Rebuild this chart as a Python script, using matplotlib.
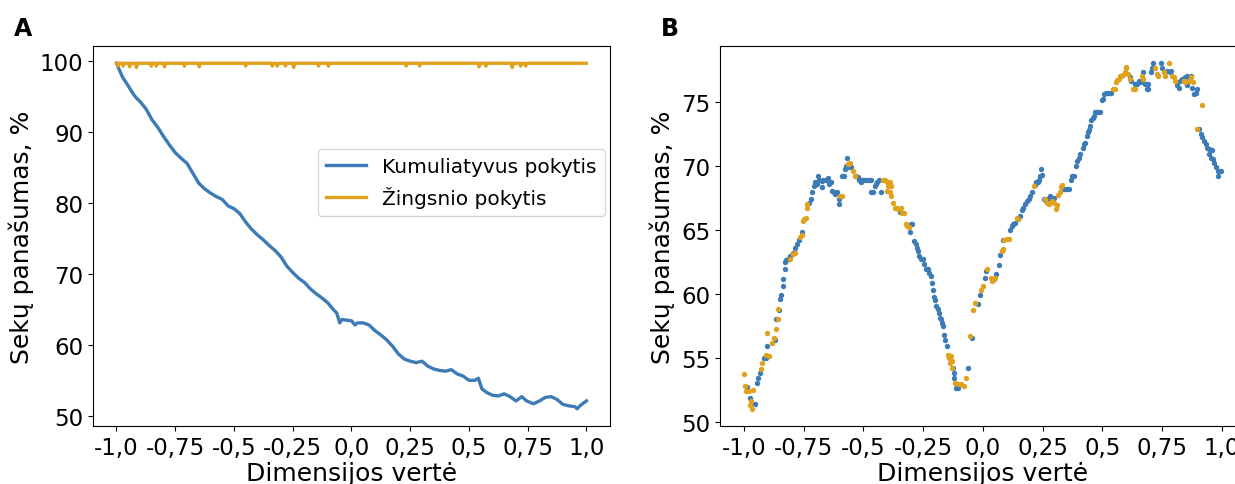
import matplotlib.pyplot as plt
import numpy as np

plt.rcParams['font.family'] = ['DejaVu Sans']

blue = '#3d7bb6'
gold = '#e0a11c'

# A: kumuliatyvus pokytis
cum_x = [-1.0, -0.975, -0.95, -0.925, -0.915, -0.9, -0.875, -0.85, -0.825, -0.8, -0.775,
         -0.75, -0.725, -0.7, -0.675, -0.65, -0.625, -0.6, -0.575, -0.55, -0.525, -0.5,
         -0.475, -0.45, -0.425, -0.4, -0.375, -0.35, -0.325, -0.3, -0.275, -0.25, -0.225,
         -0.2, -0.175, -0.15, -0.125, -0.1, -0.075, -0.063, -0.05, -0.04, -0.025, 0.0,
         0.015, 0.025, 0.05, 0.075, 0.1, 0.125, 0.15, 0.175, 0.2, 0.225, 0.25, 0.275, 0.3,
         0.325, 0.35, 0.375, 0.4, 0.425, 0.45, 0.475, 0.5, 0.525, 0.54, 0.555, 0.575, 0.6,
         0.625, 0.65, 0.675, 0.7, 0.725, 0.745, 0.775, 0.8, 0.825, 0.85, 0.875, 0.9, 0.925,
         0.95, 0.96, 0.975, 1.0]
cum_y = [99.7, 97.8, 96.5, 95.2, 94.8, 94.3, 93.3, 91.8, 90.7, 89.4, 88.2,
         87.1, 86.3, 85.6, 84.2, 82.8, 82.0, 81.4, 80.9, 80.5, 79.6, 79.2,
         78.5, 77.3, 76.3, 75.5, 74.8, 74.0, 73.3, 72.4, 71.1, 70.2, 69.4,
         68.8, 67.9, 67.2, 66.6, 65.9, 64.9, 64.5, 63.1, 63.6, 63.5, 63.4,
         62.8, 63.1, 63.1, 62.8, 62.0, 61.4, 60.7, 59.8, 58.7, 58.0, 57.7, 57.5, 57.7,
         57.0, 56.6, 56.4, 56.3, 56.5, 55.9, 55.6, 55.0, 55.0, 55.3, 53.8, 53.3, 52.9,
         52.8, 53.1, 52.7, 52.1, 52.7, 52.1, 51.7, 52.1, 52.6, 52.7, 52.3, 51.6, 51.4,
         51.3, 51.0, 51.5, 52.1]

# A: žingsnio pokytis
step_x = [-1.0, -0.997, -0.993, -0.989, -0.976, -0.972, -0.968, -0.949, -0.944, -0.939,
          -0.92, -0.915, -0.91, -0.857, -0.852, -0.847, -0.836, -0.831, -0.826, -0.801,
          -0.796, -0.791, -0.716, -0.711, -0.706, -0.653, -0.648, -0.643, -0.455, -0.45,
          -0.445, -0.342, -0.337, -0.332, -0.321, -0.316, -0.311, -0.286, -0.281, -0.276,
          -0.251, -0.246, -0.241, -0.145, -0.14, -0.135, -0.103, -0.098, -0.093, 0.228,
          0.233, 0.238, 0.285, 0.29, 0.295, 0.538, 0.543, 0.548, 0.567, 0.572, 0.577,
          0.679, 0.684, 0.689, 0.715, 0.72, 0.725, 0.736, 0.741, 0.746, 1.0]
step_y = [99.7, 99.7, 99.3, 99.7, 99.7, 99.3, 99.7, 99.7, 99.2, 99.7,
          99.7, 99.1, 99.7, 99.7, 99.3, 99.7, 99.7, 99.3, 99.7, 99.7,
          99.2, 99.7, 99.7, 99.3, 99.7, 99.7, 99.2, 99.7, 99.7, 99.3,
          99.7, 99.7, 99.3, 99.7, 99.7, 99.3, 99.7, 99.7, 99.3, 99.7,
          99.7, 99.1, 99.7, 99.7, 99.3, 99.7, 99.7, 99.3, 99.7, 99.7,
          99.3, 99.7, 99.7, 99.3, 99.7, 99.7, 99.2, 99.7, 99.7, 99.3, 99.7,
          99.7, 99.1, 99.7, 99.7, 99.3, 99.7, 99.7, 99.3, 99.7, 99.7]

# B: taškai (mėlyni)
b_blue_x = [-0.986, -0.976, -0.955, -0.945, -0.94, -0.934, -0.917, -0.909, -0.902, -0.871,
            -0.864, -0.854, -0.85, -0.843, -0.838, -0.836, -0.829, -0.829, -0.822, -0.815,
            -0.805, -0.796, -0.784, -0.777, -0.77, -0.758, -0.726, -0.72, -0.713, -0.705,
            -0.702, -0.695, -0.689, -0.684, -0.674, -0.673, -0.667, -0.656, -0.649, -0.642,
            -0.635, -0.632, -0.625, -0.618, -0.611, -0.604, -0.6, -0.59, -0.583, -0.578,
            -0.573, -0.569, -0.559, -0.552, -0.529, -0.524, -0.517, -0.512, -0.505, -0.498,
            -0.488, -0.477, -0.467, -0.467, -0.459, -0.453, -0.448, -0.442, -0.434, -0.428,
            -0.348, -0.302, -0.295, -0.304, -0.288, -0.28, -0.276, -0.271, -0.266, -0.259,
            -0.252, -0.245, -0.238, -0.234, -0.228, -0.224, -0.217, -0.213, -0.209, -0.203,
            -0.199, -0.196, -0.189, -0.182, -0.178, -0.175, -0.171, -0.168, -0.161, -0.157,
            -0.15, -0.127, -0.123, -0.12, -0.113, -0.103, -0.064, -0.047, -0.021, -0.014,
            0.007, 0.011, 0.047, 0.056, 0.066, 0.071, 0.085, 0.113, 0.12, 0.127,
            0.134, 0.145, 0.155, 0.162, 0.169, 0.177, 0.184, 0.191, 0.198, 0.205,
            0.216, 0.222, 0.23, 0.236, 0.24, 0.244, 0.247, 0.254, 0.258, 0.264,
            0.273, 0.282, 0.29, 0.297, 0.339, 0.346, 0.353, 0.36, 0.367, 0.374,
            0.381, 0.388, 0.395, 0.403, 0.407, 0.417, 0.424, 0.428, 0.434, 0.438,
            0.445, 0.449, 0.452, 0.459, 0.466, 0.47, 0.476, 0.483, 0.49, 0.497,
            0.501, 0.508, 0.516, 0.523, 0.53, 0.537, 0.617, 0.621, 0.636, 0.643,
            0.654, 0.66, 0.668, 0.678, 0.685, 0.692, 0.685, 0.692, 0.703, 0.706,
            0.71, 0.744, 0.749, 0.77, 0.781, 0.787, 0.812, 0.819, 0.826, 0.833,
            0.847, 0.855, 0.869, 0.855, 0.876, 0.883, 0.89, 0.894, 0.904, 0.911,
            0.918, 0.925, 0.932, 0.939, 0.946, 0.953, 0.96, 0.946, 0.956, 0.962,
            0.968, 0.975, 0.982, 0.989, 0.996, 0.982]
b_blue_y = [52.7, 51.8, 51.4, 53.0, 53.4, 53.8, 55.0, 55.0, 55.9, 56.4,
            58.0, 58.7, 59.6, 59.9, 60.6, 61.1, 61.9, 62.5, 62.6, 62.7,
            62.9, 63.2, 63.6, 63.9, 64.2, 64.8, 67.1, 67.4, 67.9, 68.4,
            68.7, 68.6, 69.2, 68.9, 68.8, 68.3, 68.9, 68.9, 69.0, 68.6,
            68.7, 68.0, 67.9, 67.8, 67.9, 67.4, 67.0, 69.2, 69.2, 69.7,
            70.0, 70.6, 69.9, 69.9, 69.2, 69.1, 68.9, 68.7, 68.9, 68.9,
            68.9, 68.9, 68.9, 67.9, 67.9, 68.4, 68.6, 68.7, 68.9, 67.9,
            66.4, 65.4, 65.4, 64.8, 64.1, 63.9, 63.6, 63.3, 62.9, 62.7,
            62.7, 62.3, 61.9, 61.9, 61.9, 61.6, 61.4, 60.8, 60.3, 59.7,
            59.5, 59.0, 58.8, 58.5, 58.1, 58.0, 57.7, 57.5, 56.8, 56.4,
            55.9, 54.2, 53.8, 53.4, 52.6, 52.6, 54.2, 56.5, 59.2, 59.9,
            61.2, 61.8, 61.1, 61.5, 62.2, 63.0, 64.2, 65.0, 65.3, 65.4,
            65.5, 65.8, 66.1, 66.5, 66.7, 67.0, 67.2, 67.4, 67.6, 67.9,
            68.5, 68.7, 68.7, 68.9, 69.2, 69.7, 69.3, 67.4, 67.3, 67.4,
            67.4, 67.6, 67.4, 67.5, 68.2, 68.2, 68.2, 68.2, 68.9, 69.2,
            69.2, 70.0, 70.4, 70.6, 70.9, 71.4, 71.7, 71.8, 72.3, 72.6,
            72.8, 73.1, 73.6, 73.7, 73.9, 74.2, 74.2, 74.2, 74.2, 75.1,
            75.2, 75.6, 75.7, 75.7, 75.7, 75.7, 76.9, 76.6, 76.4, 76.4,
            76.6, 76.5, 77.3, 76.4, 76.4, 76.4, 76.0, 76.0, 77.3, 77.6,
            78.0, 78.0, 77.6, 77.4, 77.3, 77.4, 76.3, 76.1, 76.6, 76.8,
            76.9, 77.0, 77.0, 76.3, 76.1, 75.6, 75.7, 76.0, 72.9, 72.5,
            72.2, 71.9, 71.7, 71.4, 71.3, 71.2, 71.2, 70.9, 70.6, 70.5,
            70.2, 69.9, 69.6, 69.6, 69.6, 69.2]

# B: taškai (geltoni)
b_gold_x = [-1.0, -0.997, -0.99, -0.979, -0.973, -0.966, -0.969, -0.961, -0.928, -0.923,
            -0.906, -0.895, -0.903, -0.884, -0.874, -0.866, -0.859, -0.856, -0.807, -0.794,
            -0.787, -0.765, -0.758, -0.753, -0.748, -0.742, -0.737, -0.734, -0.597, -0.59,
            -0.564, -0.554, -0.543, -0.537, -0.417, -0.41, -0.403, -0.396, -0.389, -0.383,
            -0.4, -0.389, -0.383, -0.375, -0.368, -0.361, -0.354, -0.344, -0.337, -0.33,
            -0.323, -0.316, -0.309, -0.147, -0.14, -0.136, -0.13, -0.134, -0.13, -0.117,
            -0.106, -0.092, -0.081, -0.071, -0.056, -0.042, -0.035, -0.007, 0.0, 0.018,
            0.032, 0.04, 0.049, 0.078, 0.085, 0.089, 0.099, 0.109, 0.141, 0.148,
            0.212, 0.261, 0.268, 0.275, 0.29, 0.297, 0.304, 0.311, 0.315, 0.321,
            0.325, 0.332, 0.544, 0.551, 0.558, 0.562, 0.568, 0.572, 0.579, 0.586,
            0.593, 0.597, 0.6, 0.607, 0.614, 0.629, 0.636, 0.664, 0.671, 0.72,
            0.727, 0.734, 0.756, 0.763, 0.777, 0.791, 0.798, 0.805, 0.84, 0.847,
            0.862, 0.871, 0.88, 0.897, 0.918]
b_gold_y = [53.7, 52.8, 52.4, 52.4, 51.3, 51.0, 51.6, 52.5, 54.1, 54.6,
            55.2, 55.1, 56.9, 56.1, 56.5, 57.2, 58.0, 58.8, 62.7, 63.1,
            63.2, 64.4, 64.6, 65.7, 65.8, 65.9, 66.7, 67.0, 67.6, 67.6,
            70.1, 70.2, 69.6, 69.2, 68.9, 68.9, 68.7, 68.4, 68.7, 68.4,
            68.0, 67.9, 67.6, 67.1, 66.7, 66.7, 66.6, 66.7, 66.3, 66.3,
            65.4, 65.3, 65.2, 55.2, 55.0, 54.6, 54.2, 55.1, 54.7, 53.0,
            52.9, 52.9, 52.8, 53.4, 56.7, 58.7, 59.3, 60.3, 60.6, 61.9,
            61.2, 61.0, 61.2, 63.3, 63.5, 64.2, 64.3, 64.3, 65.9, 65.8,
            68.4, 67.4, 67.1, 67.0, 67.2, 67.1, 66.6, 66.9, 67.7, 67.9,
            68.3, 68.5, 76.0, 76.0, 76.5, 76.7, 76.8, 77.0, 77.0, 77.1,
            77.3, 77.6, 77.7, 77.2, 76.8, 76.0, 76.0, 77.0, 76.8, 77.6,
            77.2, 77.0, 77.3, 77.0, 78.0, 77.0, 76.9, 76.6, 76.6, 76.5,
            76.6, 76.9, 76.5, 72.9, 74.7]

ticks = [-1.0, -0.75, -0.5, -0.25, 0.0, 0.25, 0.5, 0.75, 1.0]
tick_labels = ['-1,0', '-0,75', '-0,5', '-0,25', '0,0', '0,25', '0,5', '0,75', '1,0']

fig = plt.figure(figsize=(12.35, 4.85), dpi=100)
ax1 = fig.add_axes([0.0753, 0.1196, 0.4186, 0.7835])
ax2 = fig.add_axes([0.583, 0.1196, 0.425, 0.7835])

ax1.plot(cum_x, cum_y, color=blue, linewidth=2.4, label='Kumuliatyvus pokytis')
ax1.plot(step_x, step_y, color=gold, linewidth=2.4, label='Žingsnio pokytis')
ax1.set_yticks([50, 60, 70, 80, 90, 100])
ax1.legend(loc='upper right', bbox_to_anchor=(0.99, 0.729), borderaxespad=0,
           fontsize=14.5, handlelength=2.0)

ax2.scatter(b_blue_x, b_blue_y, s=15, color=blue, linewidths=0, zorder=2)
ax2.scatter(b_gold_x, b_gold_y, s=15, color=gold, linewidths=0, zorder=3)
ax2.set_yticks([50, 55, 60, 65, 70, 75])

for ax in (ax1, ax2):
    ax.set_xticks(ticks)
    ax.set_xticklabels(tick_labels)
    ax.tick_params(labelsize=16.5)
    ax.set_xlabel('Dimensijos vertė', fontsize=18, labelpad=2)
    ax.set_ylabel('Sekų panašumas, %', fontsize=18)

fig.text(0.011, 0.925, 'A', fontsize=17, fontweight='bold')
fig.text(0.535, 0.925, 'B', fontsize=17, fontweight='bold')

plt.savefig('out.png', dpi=100)
